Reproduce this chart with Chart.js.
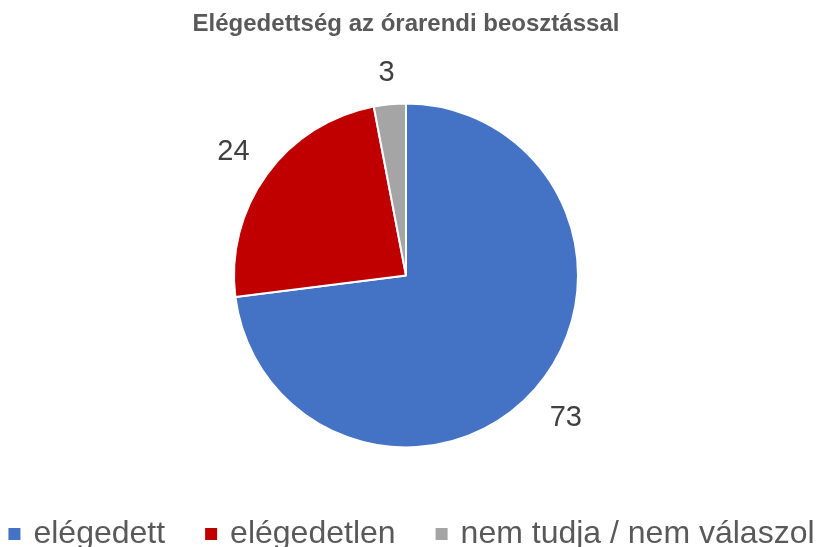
<!DOCTYPE html>
<html>
<head>
<meta charset="utf-8">
<script src="https://cdn.jsdelivr.net/npm/chart.js@4"></script>
<style>
  html, body { margin: 0; padding: 0; background: #fff; overflow: hidden; }
  #wrap { width: 819px; height: 547px; }
</style>
</head>
<body>
<div id="wrap"><canvas id="pie"></canvas></div>
<script>
// chart data
const labels = ["elégedett", "elégedetlen", "nem tudja / nem válaszol"];
const values = [73, 24, 3];
const colors = ["#4472C4", "#C00000", "#A5A5A5"];

// draws the value next to each slice, outside the pie
const outsideLabels = {
    id: "outsideLabels",
    afterDatasetsDraw(chart) {
        const ctx = chart.ctx;
        const meta = chart.getDatasetMeta(0);
        ctx.save();
        ctx.font = "29px 'Liberation Sans', sans-serif";
        ctx.fillStyle = "#404040";
        ctx.textAlign = "center";
        ctx.textBaseline = "middle";
        meta.data.forEach((arc, i) => {
            const p = arc.getProps(["x", "y", "startAngle", "endAngle", "outerRadius"], true);
            const mid = (p.startAngle + p.endAngle) / 2;
            const txt = String(values[i]);
            const w = ctx.measureText(txt).width;
            const h = 21;
            const cos = Math.cos(mid), sin = Math.sin(mid);
            const extent = Math.abs(cos) * w / 2 + Math.abs(sin) * h / 2; // half size along the direction
            const r = p.outerRadius + 22 + extent;
            ctx.fillText(txt, p.x + cos * r, p.y + sin * r + 2);
        });
        ctx.restore();
    }
};

// legend in one row along the bottom edge (the built-in one wraps)
const bottomLegend = {
    id: "bottomLegend",
    afterDraw(chart) {
        const ctx = chart.ctx;
        ctx.save();
        ctx.font = "32px 'Liberation Sans', sans-serif";
        const box = 12, gapText = 13, gapItem = 40;
        const widths = labels.map(l => ctx.measureText(l).width);
        const total = widths.reduce((s, w) => s + box + gapText + w, 0) + gapItem * (labels.length - 1);
        let x = (chart.width - total) / 2 + 2;
        const baseline = 543;
        labels.forEach((l, i) => {
            ctx.fillStyle = colors[i];
            ctx.fillRect(x, 528, box, box);
            ctx.fillStyle = "#595959";
            ctx.textBaseline = "alphabetic";
            ctx.fillText(l, x + box + gapText, baseline);
            x += box + gapText + widths[i] + gapItem;
        });
        ctx.restore();
    }
};

new Chart(document.getElementById("pie"), {
    type: "pie",
    data: {
        labels: labels,
        datasets: [{
            data: values,
            backgroundColor: colors,
            borderColor: "#ffffff",
            borderWidth: 2,
            radius: 172
        }]
    },
    options: {
        responsive: true,
        maintainAspectRatio: false,
        animation: false,
        layout: { padding: { bottom: 35, right: 7 } },
        plugins: {
            title: {
                display: true,
                text: "Elégedettség az órarendi beosztással",
                color: "#595959",
                font: { family: "'Liberation Sans', sans-serif", size: 24, weight: "bold", lineHeight: 1.2 },
                padding: { top: 10, bottom: 0 }
            },
            legend: { display: false },
            tooltip: { enabled: false }
        }
    },
    plugins: [outsideLabels, bottomLegend]
});
</script>
</body>
</html>
